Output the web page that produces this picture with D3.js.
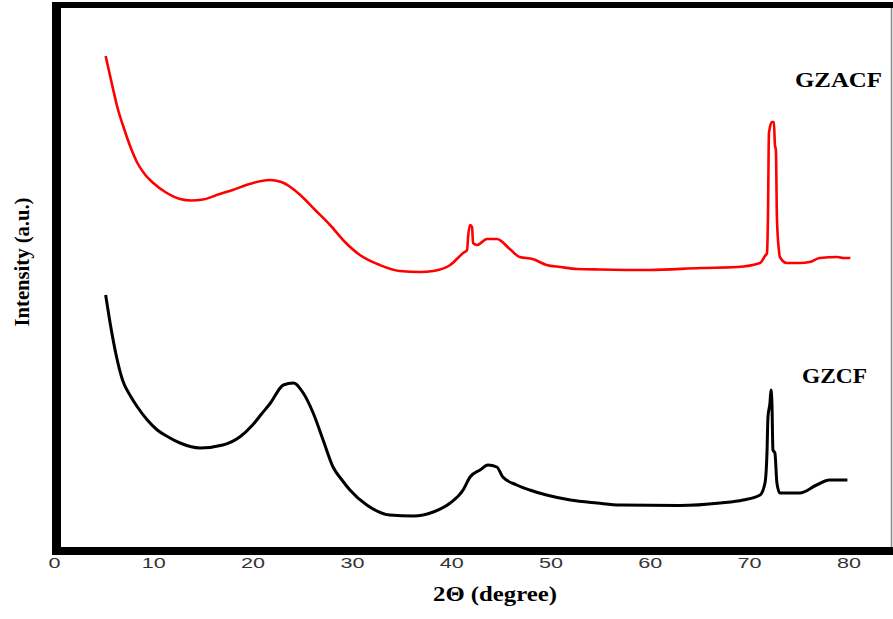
<!DOCTYPE html>
<meta charset="utf-8">
<style>
body { margin: 0; background: #fff; }
.line { fill: none; stroke-linejoin: round; }
.tick text { font-family: "Liberation Sans", Arial, sans-serif; font-size: 15px; fill: #333; }
.title { font-family: "Liberation Serif", "Times New Roman", serif; font-weight: bold; fill: #000; }
</style>
<svg width="893" height="619"></svg>
<script src="https://cdn.jsdelivr.net/npm/d3@7"></script>
<script>
// 2theta (degree) and intensity (a.u.)
var gzacfTheta = [5.2,5.9,6.4,7.0,7.7,8.4,9.2,10.0,11.2,12.7,13.8,15.0,16.7,18.0,19.7,21.7,22.9,23.8,24.8,26.3,27.8,29.3,30.8,32.8,34.8,36.9,38.2,39.9,41.2,41.6,41.7,41.9,42.1,42.2,42.6,43.6,44.6,45.9,46.9,48.2,49.6,51.0,52.7,55.0,60.0,65.1,68.8,71.1,71.6,71.8,71.9,72.0,72.3,72.5,72.6,72.7,72.8,73.0,73.1,73.8,75.1,76.1,77.1,78.9,79.5,80.2];
var gzacfInt   = [491,460,439,420,400,384,372,364,355,348,346.5,347.5,353,357,363,367,365,360,352,337,322,305,292,282,276,275,276,282,294,297,310,322,320,304,302,308,308,298,290,288,282,280,278,277.5,277,279,280,284,291,294,330,414,425,425,402,397,330,297,290,284,284,285,289,290,289,289];

var gzcfTheta = [5.2,5.6,6.3,6.9,7.7,8.4,9.4,10.4,11.5,12.7,14.7,17.0,18.7,20.0,20.9,21.8,23.1,24.1,25.1,26.1,27.1,28.1,29.0,29.8,31.5,33.8,36.2,38.2,39.9,41.2,41.9,42.9,43.7,44.6,45.2,46.6,47.9,49.6,52.0,54.7,57.0,63.0,67.1,69.4,71.1,71.6,71.8,71.9,72.1,72.2,72.3,72.4,72.6,72.8,73.1,75.1,76.8,78.1,79.9];
var gzcfInt   = [252,227,190,167,151,140,127,117,110,104,99,102,110,122,133,144,162,164,154,134,107,80,67,57,42,32,31,35,44,57,70,77,82,80,70,62,57,52,47,44,42,41.5,44,47,52,64,94,130,144,157,144,97,94,64,54,54,62,67,67];

var xTicks = [0,10,20,30,40,50,60,70,80];
var seriesNames = ["GZACF", "GZCF"];
var seriesColors = ["#ff0000", "#000000"];

var svg = d3.select("svg");

var x = d3.scaleLinear().domain([0, 84]).range([54, 54 + 84 * 9.93]);
var y = d3.scaleLinear().domain([0, 540]).range([547, 7]);

function pts(t, v) { return t.map(function(d, i) { return [d, v[i]]; }); }

var line = d3.line()
    .x(function(d) { return x(d[0]); })
    .y(function(d) { return y(d[1]); })
    .curve(d3.curveMonotoneX);

svg.append("path").attr("class", "line")
    .attr("d", line(pts(gzacfTheta, gzacfInt)))
    .attr("stroke", seriesColors[0]).attr("stroke-width", 2.6);

svg.append("path").attr("class", "line")
    .attr("d", line(pts(gzcfTheta, gzcfInt)))
    .attr("stroke", seriesColors[1]).attr("stroke-width", 3);

// frame
svg.append("line").attr("x1", 891.5).attr("x2", 891.5).attr("y1", 4).attr("y2", 551)
    .attr("stroke", "#888").attr("stroke-width", 1.5);
svg.append("line").attr("x1", 52).attr("x2", 893).attr("y1", 5).attr("y2", 5)
    .attr("stroke", "#000").attr("stroke-width", 6);
svg.append("line").attr("x1", 56.5).attr("x2", 56.5).attr("y1", 2).attr("y2", 555)
    .attr("stroke", "#000").attr("stroke-width", 9);
svg.append("line").attr("x1", 52).attr("x2", 893).attr("y1", 551).attr("y2", 551)
    .attr("stroke", "#000").attr("stroke-width", 8);

// tick labels in the picture are wide, so stretch them a little
var xaxis = svg.append("g")
    .attr("transform", "translate(0,555)")
    .call(d3.axisBottom(x).tickValues(xTicks).tickSize(0).tickPadding(2));
xaxis.select(".domain").remove();
xaxis.selectAll(".tick text")
    .attr("textLength", function(d) { return String(d).length * 12; })
    .attr("lengthAdjust", "spacingAndGlyphs");

svg.append("text").attr("class", "title")
    .attr("x", 495).attr("y", 601)
    .attr("text-anchor", "middle").attr("font-size", 20)
    .attr("textLength", 124).attr("lengthAdjust", "spacingAndGlyphs")
    .text("2Θ (degree)");

svg.append("text").attr("class", "title")
    .attr("transform", "translate(29,262) rotate(-90)")
    .attr("text-anchor", "middle").attr("font-size", 20)
    .attr("textLength", 129).attr("lengthAdjust", "spacingAndGlyphs")
    .text("Intensity (a.u.)");

svg.append("text").attr("class", "title")
    .attr("x", 838.5).attr("y", 87)
    .attr("text-anchor", "middle").attr("font-size", 20)
    .attr("textLength", 87).attr("lengthAdjust", "spacingAndGlyphs")
    .text(seriesNames[0]);

svg.append("text").attr("class", "title")
    .attr("x", 834.5).attr("y", 383)
    .attr("text-anchor", "middle").attr("font-size", 20)
    .attr("textLength", 65).attr("lengthAdjust", "spacingAndGlyphs")
    .text(seriesNames[1]);
</script>
